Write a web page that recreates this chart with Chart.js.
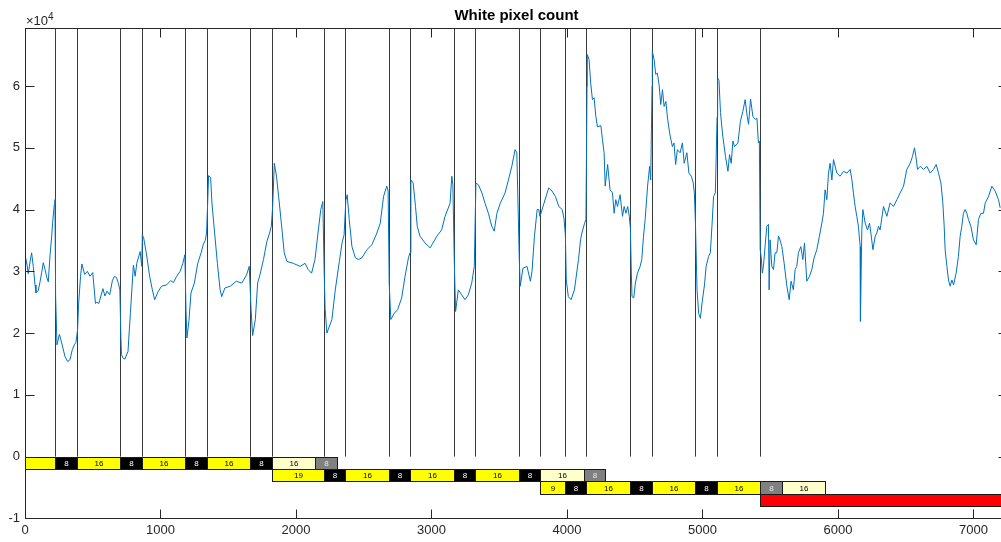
<!DOCTYPE html>
<html>
<head>
<meta charset="utf-8">
<title>White pixel count</title>
<script src="https://cdn.jsdelivr.net/npm/chart.js@4.4.1/dist/chart.umd.min.js"></script>
<style>
  body { margin: 0; overflow: hidden; background: #fff; }
  canvas { display: block; }
</style>
</head>
<body>
<canvas id="chartWhite" width="1010" height="542"></canvas>
<script>
// frame number -> white pixel count
const frames = [
    5, 15, 24, 37, 49, 61, 74, 81, 98, 111, 123, 135, 148, 160, 172, 185, 196, 204, 216, 221,
    226, 236, 254, 271, 295, 315, 332, 349, 364, 376,
    388, 395, 410, 420, 440, 460, 480, 500, 520, 530, 545, 560, 575, 590, 605, 625, 645, 660, 675, 690, 700,
    708, 712, 725, 737, 760, 778, 790, 800, 813, 825, 850, 862,
    866, 875, 895, 920, 940, 957, 982, 1008, 1045, 1075, 1095, 1120, 1145, 1165, 1180,
    1188, 1195, 1210, 1225, 1250, 1275, 1300, 1315, 1330, 1340,
    1348, 1355, 1370, 1380, 1395, 1420, 1440, 1452, 1475, 1515, 1560, 1600, 1635, 1655,
    1668, 1680, 1700, 1717, 1737, 1760, 1785, 1805, 1818,
    1828, 1840, 1856, 1872, 1897, 1913, 1933, 1980, 2030, 2067, 2090, 2115, 2140, 2165, 2183, 2198,
    2208, 2215, 2228, 2265, 2290, 2320, 2340, 2355,
    2368, 2378, 2393, 2413, 2438, 2462, 2487, 2523, 2560, 2597, 2622, 2646, 2670, 2680,
    2688, 2700, 2725, 2750, 2780, 2805, 2830, 2842,
    2848, 2865, 2882, 2895, 2915, 2952, 2990, 3040, 3075, 3100, 3137, 3150, 3158,
    3168, 3178, 3198, 3223, 3248, 3272, 3297, 3316,
    3328, 3347, 3372, 3396, 3420, 3445, 3463, 3483, 3507, 3520, 3543, 3568, 3593, 3617, 3630,
    3648, 3655, 3675, 3705, 3730, 3742, 3760, 3780, 3792, 3800,
    3808, 3830, 3865, 3890, 3915, 3940, 3965, 3978,
    3988, 3995, 4010, 4030, 4055, 4085, 4100, 4110, 4130, 4140,
    4148, 4150, 4163, 4175, 4188, 4200, 4213, 4225, 4250, 4262, 4274, 4282, 4300, 4318, 4336, 4348,
    4360, 4373, 4392, 4410, 4422, 4435, 4448, 4460,
    4468, 4475, 4480, 4493, 4505, 4520, 4540, 4552, 4565, 4577, 4595, 4610, 4618,
    4628, 4630, 4643, 4655, 4667, 4680, 4692, 4705, 4717, 4730, 4742, 4760, 4778, 4790, 4802, 4815,
    4835, 4852, 4865, 4885, 4900, 4918, 4932, 4940,
    4948, 4960, 4972, 4985, 4997, 5015, 5027, 5045, 5058, 5070, 5082, 5095,
    5108, 5112, 5122, 5133, 5150, 5170, 5188, 5200, 5212, 5225, 5237, 5262, 5280, 5298, 5315, 5330,
    5340, 5355, 5372, 5390, 5402, 5413, 5420,
    5426, 5433, 5442, 5450, 5462, 5475, 5487, 5492, 5499, 5512, 5524, 5536, 5549, 5561, 5568, 5586,
    5603, 5623, 5640, 5654, 5671, 5684, 5696, 5708, 5726, 5741, 5753, 5770, 5790, 5807, 5824, 5844,
    5863, 5881, 5893, 5905, 5918, 5930, 5942, 5955, 5967, 5992, 6016, 6041, 6066, 6090, 6103, 6114,
    6127, 6139, 6151, 6164, 6166, 6176, 6184, 6201, 6218, 6233, 6243, 6258, 6275, 6287, 6299, 6311,
    6336, 6361, 6385, 6410, 6435, 6459, 6484, 6508, 6533, 6550, 6565, 6575, 6587, 6607, 6631, 6656,
    6681, 6705, 6725, 6742, 6760, 6774, 6784, 6791, 6804, 6816, 6828, 6841, 6853, 6872, 6889, 6902,
    6914, 6926, 6939, 6951, 6963, 6981, 7000, 7020, 7037, 7055, 7074, 7087, 7111, 7136, 7160, 7185, 7197
];
const whiteCount = [
    32200, 31000, 29600, 31500, 33000, 30800, 27800, 26500, 26900, 28300, 29800, 31400, 30300, 29100, 28300, 32700, 35400, 37900, 40800, 41600,
    26000, 18100, 19800, 18400, 16200, 15400, 15700, 17300, 18100, 18500,
    20500, 24500, 29200, 31200, 29500, 30000, 29200, 29800, 24800, 25000, 24800, 26000, 27200, 26000, 26800, 26200, 28500, 29200, 29000, 28000, 27000,
    19000, 16500, 15900, 15800, 17000, 23300, 27500, 31000, 29200, 31300, 33200, 30800,
    35900, 35500, 33000, 29200, 27000, 25400, 26700, 27600, 27800, 28500, 28200, 29200, 30000, 31300, 32700,
    24000, 19200, 22000, 26500, 28100, 31300, 33000, 34300, 35000, 36200,
    41000, 45500, 45200, 41000, 37300, 31300, 27000, 25900, 27300, 27600, 28400, 28100, 29400, 30800,
    24000, 19600, 22200, 28100, 29700, 31900, 34800, 36200, 37300,
    40500, 47500, 45400, 42100, 36700, 33000, 31600, 31300, 30800, 31300, 30300, 29700, 31900, 36700, 40000, 41300,
    30000, 24000, 20000, 22200, 27000, 31600, 34600, 35900,
    41500, 42400, 38400, 34000, 32200, 31900, 32200, 33500, 34300, 36200, 37800, 42100, 43800, 43000,
    28000, 22200, 23200, 23800, 25700, 29200, 32200, 33000,
    44800, 44300, 40500, 37300, 35700, 34600, 33800, 35700, 36700, 38900, 41000, 45400, 44000,
    32000, 23500, 27000, 26200, 25400, 26200, 28100, 30800,
    44300, 44000, 42700, 41000, 39400, 37300, 36500, 39400, 41000, 41600, 42700, 44800, 47000, 49700, 49200,
    32000, 27600, 30500, 30800, 28400, 30000, 35700, 40000, 40000, 38900,
    39400, 41000, 43500, 43000, 42100, 40500, 40000, 38500,
    36000, 28600, 25900, 25400, 27000, 31900, 35100, 36200, 37800, 38400,
    60000, 65100, 64300, 60500, 57800, 58100, 55100, 53400, 53600, 51300, 49200, 43800, 47300, 43200, 42700, 39400,
    41600, 40500, 42400, 38900, 40500, 39400, 40500, 38900,
    37000, 29700, 25900, 25700, 28100, 29700, 30800, 31900, 35700, 38400, 43800, 47000, 44800,
    60000, 65600, 64300, 61900, 62100, 60200, 57000, 59400, 56700, 57500, 54800, 52100, 50200, 50800, 47300, 49700,
    49200, 50800, 47500, 49200, 45900, 45400, 44300, 42700,
    38000, 27000, 23200, 22400, 24900, 27800, 30800, 32400, 33000, 37300, 42100, 42700,
    55000, 61300, 60900, 55700, 51900, 48600, 46200, 48900, 47500, 51100, 50200, 50800, 54300, 55900, 57800, 55100,
    53800, 57900, 55100, 54600, 54800, 50800, 51100,
    33500, 32400, 29700, 30800, 34000, 37300, 37600, 27000, 35100, 30800, 30300, 33000, 33000, 35700, 35400, 34000,
    31300, 27600, 25400, 28400, 27000, 30300, 30800, 33000, 34000, 31900, 34600, 28400, 29200, 30300, 32200, 33500,
    35700, 37800, 39400, 43200, 41600, 45900, 47500, 44800, 48100, 45900, 45400, 46200, 45900, 46500, 44800, 42700,
    40500, 38900, 37300, 34000, 21900, 36700, 40000, 37800, 36700, 37800, 36200, 33500, 35700, 36200, 37300, 36700,
    40500, 38900, 41100, 40500, 41600, 42700, 43800, 46500, 47500, 48600, 50000, 48600, 46500, 47000, 46500, 47000,
    45900, 46500, 47300, 45900, 44300, 41100, 37300, 33500, 30800, 28600, 27600, 28600, 27800, 29700, 32400, 35700,
    37300, 39400, 40000, 39400, 38400, 37300, 35100, 34300, 38400, 39400, 39400, 41100, 42100, 43800, 43000, 41600, 40300
];

// frames where the stimulus blocks change
const eventFrames = [224, 384, 704, 864, 1184, 1344, 1664, 1824, 2204, 2364, 2684, 2844,
    3164, 3324, 3644, 3804, 3984, 4144, 4464, 4624, 4944, 5104, 5424];

// block rows under the trace
const row1Edges = [0, 224, 384, 704, 864, 1184, 1344, 1664, 1824, 2144, 2304];
const row1Labels = ["", "8", "16", "8", "16", "8", "16", "8", "16", "8"];
const row1Types = ["on", "off", "on", "off", "on", "off", "on", "off", "pre", "gap"];

const row2Edges = [1824, 2204, 2364, 2684, 2844, 3164, 3324, 3644, 3804, 4124, 4284];
const row2Labels = ["19", "8", "16", "8", "16", "8", "16", "8", "16", "8"];
const row2Types = ["on", "off", "on", "off", "on", "off", "on", "off", "pre", "gap"];

const row3Edges = [3804, 3984, 4144, 4464, 4624, 4944, 5104, 5424, 5584, 5904];
const row3Labels = ["9", "8", "16", "8", "16", "8", "16", "8", "16"];
const row3Types = ["on", "off", "on", "off", "on", "off", "on", "gap", "pre"];

const row4Edges = [5424, 7400];
const row4Labels = [""];
const row4Types = ["stop"];

const xTicks = [0, 1000, 2000, 3000, 4000, 5000, 6000, 7000];
const yTicks = [-10000, 0, 10000, 20000, 30000, 40000, 50000, 60000];

const rows = [
    [row1Edges, row1Labels, row1Types],
    [row2Edges, row2Labels, row2Types],
    [row3Edges, row3Labels, row3Types],
    [row4Edges, row4Labels, row4Types],
];
const ROW_H = 2000;

const fillOf = { on: "#ffff00", off: "#000000", pre: "#ffffcc", gap: "#808080", stop: "#ff0000" };
const textOf = { on: "#000000", off: "#ffffff", pre: "#000000", gap: "#e8e8e8", stop: "#000000" };
const AX = "#262626";
const FONT = "'Liberation Sans', Arial, Helvetica, sans-serif";

const matlabLook = {
    id: "matlabLook",
    beforeDatasetsDraw(chart) {
        const { ctx, chartArea, scales } = chart;
        const y0 = scales.y.getPixelForValue(0);
        ctx.save();
        ctx.strokeStyle = "#3a3a3a";
        ctx.lineWidth = 1;
        eventFrames.forEach(f => {
            const px = Math.round(scales.x.getPixelForValue(f)) + 0.5;
            ctx.beginPath();
            ctx.moveTo(px, y0);
            ctx.lineTo(px, chartArea.top);
            ctx.stroke();
        });
        ctx.restore();
    },
    afterDatasetsDraw(chart) {
        const { ctx, chartArea, scales } = chart;
        ctx.save();
        ctx.beginPath();
        ctx.rect(chartArea.left, chartArea.top, chartArea.right - chartArea.left, chartArea.bottom - chartArea.top);
        ctx.clip();
        ctx.font = "8px " + FONT;
        ctx.textAlign = "center";
        ctx.textBaseline = "middle";
        rows.forEach(([edges, labels, types], r) => {
            const top = Math.round(scales.y.getPixelForValue(-r * ROW_H)) + 0.5;
            const bot = Math.round(scales.y.getPixelForValue(-(r + 1) * ROW_H)) + 0.5;
            for (let i = 0; i < labels.length; i++) {
                const a = Math.round(scales.x.getPixelForValue(edges[i])) + 0.5;
                const b = Math.round(scales.x.getPixelForValue(edges[i + 1])) + 0.5;
                ctx.fillStyle = fillOf[types[i]];
                ctx.fillRect(a, top, b - a, bot - top);
                ctx.strokeStyle = "#1a1a1a";
                ctx.lineWidth = 1;
                ctx.strokeRect(a, top, b - a, bot - top);
                if (labels[i]) {
                    ctx.fillStyle = textOf[types[i]];
                    ctx.fillText(labels[i], (a + b) / 2, (top + bot) / 2 + 0.5);
                }
            }
        });
        ctx.restore();
    },
    afterDraw(chart) {
        const { ctx, chartArea, scales } = chart;
        const L = chartArea.left + 0.5, R = Math.round(chartArea.right) - 0.5;
        const T = Math.round(chartArea.top) + 0.5, B = Math.round(chartArea.bottom) - 0.5;
        const tl = 9;
        ctx.save();
        ctx.strokeStyle = AX;
        ctx.lineWidth = 1;
        ctx.strokeRect(L, T, R - L, B - T);
        ctx.beginPath();
        xTicks.forEach(v => {
            const px = Math.round(scales.x.getPixelForValue(v)) + 0.5;
            ctx.moveTo(px, B); ctx.lineTo(px, B - tl);
            ctx.moveTo(px, T); ctx.lineTo(px, T + tl);
        });
        yTicks.forEach(v => {
            const py = Math.round(scales.y.getPixelForValue(v)) + 0.5;
            ctx.moveTo(L, py); ctx.lineTo(L + tl, py);
            ctx.moveTo(R, py); ctx.lineTo(R - tl, py);
        });
        ctx.stroke();

        // title
        ctx.fillStyle = "#000";
        ctx.font = "bold 15px " + FONT;
        ctx.textAlign = "center";
        ctx.textBaseline = "alphabetic";
        ctx.fillText("White pixel count", (chartArea.left + chartArea.right) / 2, 20);

        // exponent
        ctx.fillStyle = AX;
        ctx.textAlign = "left";
        ctx.font = "13px " + FONT;
        ctx.fillText("\u00d710", 26, 25);
        const w = ctx.measureText("\u00d710").width;
        ctx.font = "10px " + FONT;
        ctx.fillText("4", 26 + w, 20);
        ctx.restore();
    }
};

const config = {
    type: "scatter",
    data: {
        datasets: [{
            label: "White pixel count",
            data: frames.map((f, i) => ({ x: f, y: whiteCount[i] })),
            showLine: true,
            borderColor: "#0072BD",
            backgroundColor: "#0072BD",
            borderWidth: 1,
            pointRadius: 0,
            tension: 0,
        }],
    },
    options: {
        responsive: false,
        devicePixelRatio: 1,
        animation: false,
        layout: { padding: { top: 28, right: 2, left: 0, bottom: 0 } },
        plugins: { legend: { display: false }, tooltip: { enabled: false }, title: { display: false } },
        scales: {
            x: {
                type: "linear",
                min: 0,
                max: 7255,
                afterFit: s => { s.height = 23; },
                afterBuildTicks: s => { s.ticks = xTicks.map(v => ({ value: v })); },
                grid: { display: false, drawTicks: false },
                border: { display: false },
                ticks: {
                    padding: 4,
                    maxRotation: 0,
                    color: AX,
                    font: { family: FONT, size: 13 },
                    callback: v => String(v),
                },
            },
            y: {
                min: -10100,
                max: 69400,
                afterFit: s => { s.width = 25; },
                afterBuildTicks: s => { s.ticks = yTicks.map(v => ({ value: v })); },
                grid: { display: false, drawTicks: false },
                border: { display: false },
                ticks: {
                    padding: 5,
                    color: AX,
                    font: { family: FONT, size: 13 },
                    callback: v => String(v / 10000),
                },
            },
        },
    },
    plugins: [matlabLook],
};

var chartWhite = new Chart(document.getElementById("chartWhite"), config);
</script>
</body>
</html>
